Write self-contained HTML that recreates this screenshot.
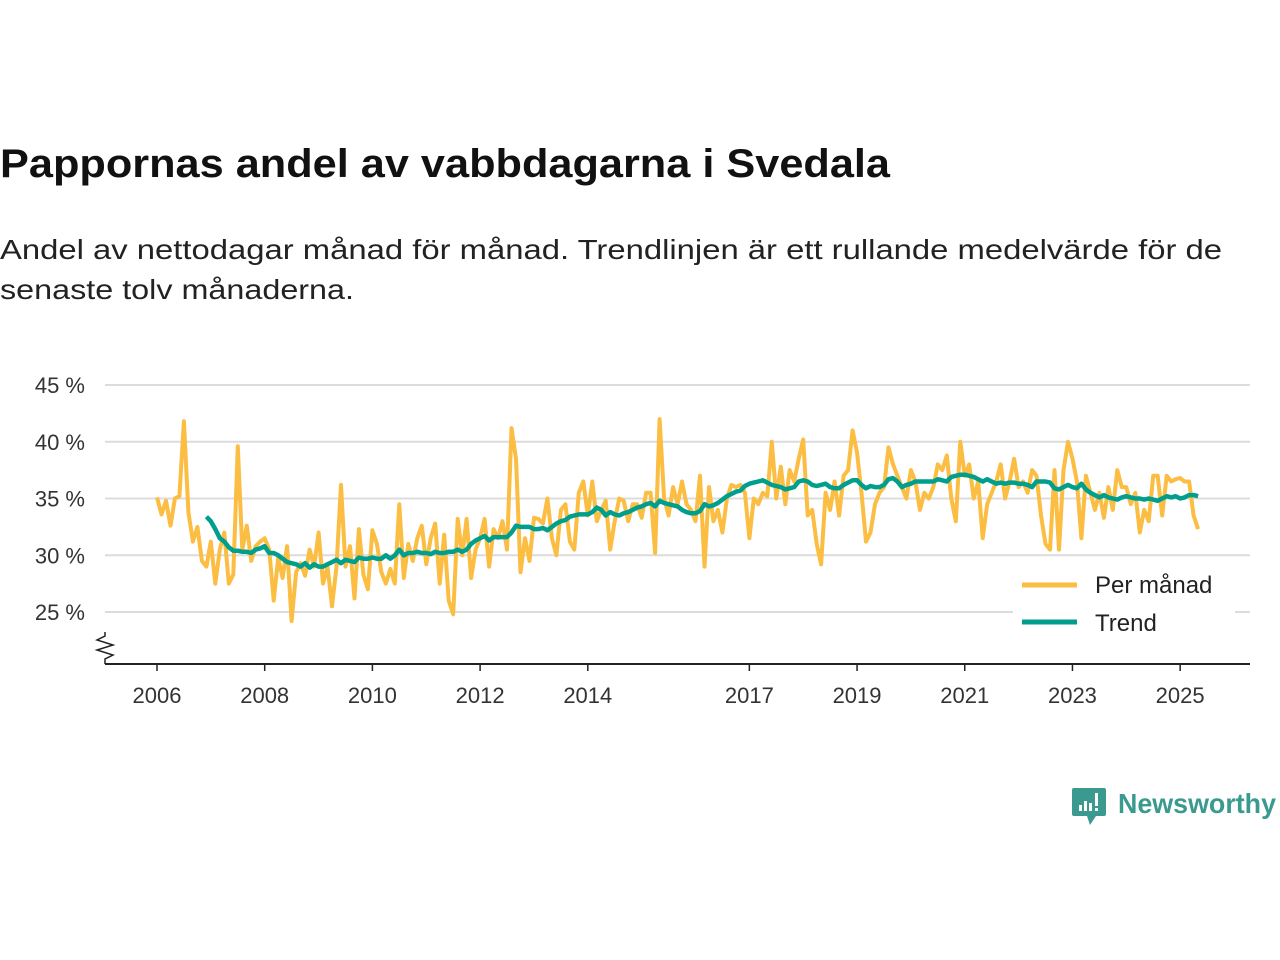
<!DOCTYPE html>
<html><head><meta charset="utf-8"><style>
body{margin:0;background:#fff;}
svg{display:block;font-family:"Liberation Sans",sans-serif;}
</style></head><body>
<svg id="chart" width="1280" height="960" viewBox="0 0 1280 960">
<text x="0" y="177" font-size="40" font-weight="bold" fill="#111" textLength="890" lengthAdjust="spacingAndGlyphs">Pappornas andel av vabbdagarna i Svedala</text>
<text x="0" y="259" font-size="28" fill="#222" textLength="1222" lengthAdjust="spacingAndGlyphs">Andel av nettodagar månad för månad. Trendlinjen är ett rullande medelvärde för de</text>
<text x="0" y="299" font-size="28" fill="#222" textLength="354" lengthAdjust="spacingAndGlyphs">senaste tolv månaderna.</text>
<g id="grid"></g>
<g id="yticks"></g>
<line x1="105" y1="664" x2="1250" y2="664" stroke="#222" stroke-width="2"/>
<polyline points="105,632 105,636 97,640 113,645 97,650 113,655 105,659 105,664" fill="none" stroke="#222" stroke-width="1.5"/>
<g id="xticks"></g>
<g id="series"></g>
<g>
<rect x="1013" y="566" width="222" height="76" fill="#fff"/>
<line x1="1022" y1="585" x2="1077" y2="585" stroke="#fbbd42" stroke-width="5"/>
<text x="1095" y="593" font-size="24" fill="#222">Per månad</text>
<line x1="1022" y1="622" x2="1077" y2="622" stroke="#009e8c" stroke-width="5"/>
<text x="1095" y="631" font-size="24" fill="#222">Trend</text>
</g>
<g>
<path d="M1074,788 h30 a2,2 0 0 1 2,2 v24 a2,2 0 0 1 -2,2 h-8 l-6,9 l-3,-9 h-13 a2,2 0 0 1 -2,-2 v-24 a2,2 0 0 1 2,-2z" fill="#3a9a8f"/>
<rect x="1079" y="805" width="3" height="6" fill="#fff"/><rect x="1084" y="801" width="3" height="10" fill="#fff"/><rect x="1089" y="803" width="3" height="8" fill="#fff"/><rect x="1095" y="793" width="3" height="13" fill="#fff"/><rect x="1095" y="808" width="3" height="3" fill="#fff"/>
<text x="1118" y="813" font-size="28" font-weight="bold" fill="#3a9a8f" textLength="158" lengthAdjust="spacingAndGlyphs">Newsworthy</text>
</g>
</svg>
<script>
const yTicks = [25, 30, 35, 40, 45];
const xTickYears = [2006, 2008, 2010, 2012, 2014, 2017, 2019, 2021, 2023, 2025];
const monthlyStart = [2006, 0];
const monthly = [
35.1,33.6,34.8,32.6,35.0,35.2,41.8,33.8,31.2,32.5,29.5,29.0,
31.2,27.5,30.5,32.0,27.5,28.3,39.6,30.5,32.6,29.5,30.8,31.2,
31.5,30.5,26.0,29.8,28.0,30.8,24.2,28.5,29.3,28.2,30.5,29.0,
32.0,27.5,29.0,25.5,29.0,36.2,29.0,30.8,26.2,32.3,28.3,27.0,
32.2,31.0,28.5,27.5,28.8,27.5,34.5,28.0,31.0,29.5,31.5,32.6,
29.2,31.5,32.8,27.5,31.8,26.0,24.8,33.2,30.0,33.2,28.0,30.5,
31.5,33.2,29.0,32.3,31.5,33.0,30.5,41.2,38.5,28.5,31.5,29.5,
33.3,33.2,32.8,35.0,31.5,30.0,34.0,34.5,31.2,30.5,35.5,36.5,
33.5,36.5,33.0,34.0,34.8,30.5,33.0,35.0,34.8,33.0,34.5,34.5,
33.3,35.5,35.5,30.2,42.0,35.0,33.5,36.0,34.5,36.5,34.5,34.0,
33.0,37.0,29.0,36.0,33.0,34.0,32.0,35.0,36.2,36.0,36.2,35.5,
31.5,35.0,34.5,35.5,35.2,40.0,35.0,37.8,34.5,37.5,36.5,38.5,
40.2,33.5,34.0,31.0,29.2,35.5,34.0,36.5,33.5,37.0,37.5,41.0,
39.0,35.5,31.2,32.0,34.5,35.5,36.0,39.5,38.0,37.0,36.0,35.0,
37.5,36.5,34.0,35.5,35.0,36.0,38.0,37.5,38.8,35.0,33.0,40.0,
37.0,38.0,35.0,36.5,31.5,34.5,35.5,36.5,38.0,35.0,36.5,38.5,
36.0,36.5,35.5,37.5,37.0,33.5,31.0,30.5,37.5,30.5,37.5,40.0,
38.5,36.5,31.5,37.0,35.5,34.0,35.5,33.3,36.0,34.0,37.5,36.0,
36.0,34.5,35.5,32.0,34.0,33.0,37.0,37.0,33.5,37.0,36.5,36.7,
36.8,36.5,36.5,33.5,32.3];
const trendStart = [2006, 11];
const trend = [33.4,
33.0,32.3,31.5,31.2,30.7,30.4,30.4,30.3,30.3,30.2,30.5,30.6,
30.8,30.2,30.2,30.0,29.7,29.4,29.3,29.2,29.0,29.3,28.9,29.2,
29.0,29.0,29.2,29.4,29.6,29.3,29.6,29.5,29.4,29.8,29.7,29.7,
29.8,29.7,29.7,30.0,29.7,30.0,30.5,30.0,30.2,30.2,30.3,30.2,
30.2,30.1,30.3,30.2,30.2,30.3,30.3,30.5,30.3,30.5,31.0,31.3,
31.5,31.7,31.3,31.6,31.6,31.6,31.6,32.0,32.6,32.5,32.5,32.5,
32.3,32.3,32.4,32.2,32.5,32.8,33.0,33.1,33.4,33.5,33.6,33.6,
33.6,33.8,34.2,34.0,33.5,33.8,33.6,33.5,33.7,33.8,34.0,34.2,
34.3,34.5,34.6,34.3,34.8,34.6,34.5,34.4,34.3,34.0,33.8,33.7,
33.7,33.9,34.5,34.3,34.4,34.6,34.9,35.2,35.4,35.6,35.7,36.1,
36.3,36.4,36.5,36.6,36.4,36.2,36.1,36.0,35.8,35.9,36.0,36.5,
36.6,36.5,36.2,36.1,36.2,36.3,36.0,35.9,35.9,36.2,36.4,36.6,
36.6,36.2,35.9,36.1,36.0,36.0,36.2,36.7,36.8,36.5,36.0,36.2,
36.3,36.5,36.5,36.5,36.5,36.5,36.7,36.6,36.5,36.9,37.0,37.1,
37.1,37.0,36.9,36.7,36.5,36.7,36.5,36.3,36.4,36.3,36.4,36.4,
36.3,36.3,36.2,36.0,36.5,36.5,36.5,36.4,35.9,35.8,36.0,36.2,
36.0,35.9,36.3,35.8,35.5,35.3,35.1,35.3,35.1,35.0,34.9,35.1,
35.2,35.1,35.0,35.0,34.9,35.0,34.9,34.8,35.0,35.2,35.1,35.2,35.0,35.1,35.3,35.3,35.2];

const NS='http://www.w3.org/2000/svg';
function xScale(yearFrac){return 157+(yearFrac-2006)*53.85;}
function yScale(v){return 385+(45-v)*11.35;}
function mk(tag,attrs,parent){const e=document.createElementNS(NS,tag);for(const k in attrs)e.setAttribute(k,attrs[k]);parent.appendChild(e);return e;}
const grid=document.getElementById('grid'),yt=document.getElementById('yticks'),xt=document.getElementById('xticks'),ser=document.getElementById('series');
yTicks.forEach(t=>{
  const l=mk('line',{x1:105,x2:1250,y1:yScale(t),y2:yScale(t),stroke:'#dcdcdc','stroke-width':2},grid);
  
  
  const tx=mk('text',{x:85,y:yScale(t)+8,'text-anchor':'end','font-size':22,fill:'#333'},yt);
  tx.textContent=t+' %';
  
  
});
xTickYears.forEach(y=>{
  const x=xScale(y);
  const tk=mk('line',{x1:x,x2:x,y1:664,y2:671,stroke:'#222','stroke-width':1.5},xt);
  
  
  const tx=mk('text',{x:x,y:703,'text-anchor':'middle','font-size':22,fill:'#333'},xt);
  tx.textContent=y;
  
  
});
function pts(arr,start){return arr.map((v,i)=>{const m=start[1]+i;return xScale(start[0]+m/12).toFixed(1)+','+yScale(v).toFixed(1);}).join(' ');}
const pm=mk('polyline',{points:pts(monthly,monthlyStart),fill:'none',stroke:'#fbbd42','stroke-width':4,'stroke-linejoin':'round'},ser);


const pt=mk('polyline',{points:pts(trend,trendStart),fill:'none',stroke:'#009e8c','stroke-width':4.5,'stroke-linejoin':'round'},ser);


</script>
</body></html>
